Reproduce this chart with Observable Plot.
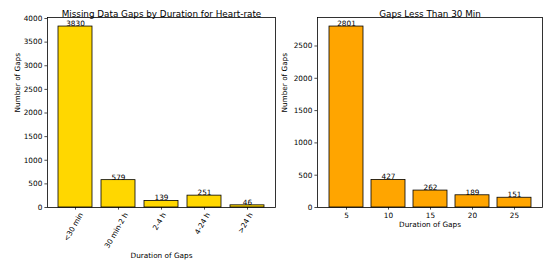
<!DOCTYPE html>
<html><head><meta charset="utf-8">
<script src="https://cdn.jsdelivr.net/npm/d3@7"></script>
<script src="https://cdn.jsdelivr.net/npm/@observablehq/plot@0.6"></script>
<style>
html,body{margin:0;padding:0;background:#fff;}
#wrap{position:relative;width:545px;height:268px;overflow:hidden;background:#fff;}
#wrap svg{position:absolute;top:0;}
</style></head><body><div id="wrap"></div>
<script>
const leftTitle = "Missing Data Gaps by Duration for Heart-rate";
const rightTitle = "Gaps Less Than 30 Min";
const leftCategories = ["<30 min", "30 min-2 h", "2-4 h", "4-24 h", ">24 h"];
const leftCounts = [3830, 579, 139, 251, 46];
const rightDurations = ["5", "10", "15", "20", "25"];
const rightCounts = [2801, 427, 262, 189, 151];
const leftYTicks = [0, 500, 1000, 1500, 2000, 2500, 3000, 3500, 4000];
const rightYTicks = [0, 500, 1000, 1500, 2000, 2500];
const xLabel = "Duration of Gaps";
const yLabel = "Number of Gaps";

const FONT = "DejaVu Sans";
const FS = 7.3;
const TFS = 8.8;
const TICK = 2.6;
const ctx = document.createElement("canvas").getContext("2d");
ctx.font = `${FS}px "${FONT}"`;
const measure = t => ctx.measureText(t).width;

const leftData = leftCategories.map((c, i) => ({cat: c, count: leftCounts[i]}));
const rightData = rightDurations.map((c, i) => ({cat: c, count: rightCounts[i]}));

function panel({data, domain, yTicks, fill, title, width, marginLeft, marginRight, rotated, xLabelOffset, yLabelOffset}) {
  const sin60 = Math.sin(Math.PI / 3), cos60 = 0.5;
  const rotMarks = rotated ? domain.map(c => {
    const w = measure(c);
    const H = w * sin60 + FS * 1.0 * cos60;
    return Plot.text([c], {x: d => d, text: d => d, frameAnchor: "bottom", rotate: -60,
      textAnchor: "middle", dy: TICK + TICK + H / 2, fontSize: FS});
  }) : [];
  return Plot.plot({
    width, height: 268,
    marginLeft, marginRight, marginTop: 17, marginBottom: 61,
    style: {fontFamily: FONT, fontSize: FS + "px", color: "#000", background: "transparent", overflow: "visible"},
    x: {type: "band", domain, paddingInner: 0.2, paddingOuter: 0.24},
    y: {domain: [0, d3.max(data, d => d.count) * 1.05]},
    marks: [
      Plot.barY(data, {x: "cat", y: "count", fill, stroke: "#000", strokeWidth: 0.8}),
      Plot.text(data, {x: "cat", y: "count", text: d => String(d.count), dy: -0.5, lineAnchor: "bottom", fontSize: FS}),
      Plot.axisY({ticks: yTicks, tickSize: TICK, tickPadding: TICK, label: null, strokeWidth: 0.7, tickFormat: d => String(d)}),
      Plot.axisX({tickSize: TICK, tickPadding: TICK, label: null, strokeWidth: 0.7,
        tickFormat: rotated ? () => "" : d => d}),
      ...rotMarks,
      Plot.frame({stroke: "#000", strokeWidth: 0.8}),
      Plot.text([title], {text: d => d, frameAnchor: "top", dy: -7, fontSize: TFS}),
      Plot.text([yLabel], {text: d => d, frameAnchor: "left", rotate: -90, dx: -yLabelOffset, fontSize: FS}),
      Plot.text([xLabel], {text: d => d, frameAnchor: "bottom", dy: xLabelOffset, fontSize: FS})
    ]
  });
}

const wrap = document.getElementById("wrap");
const left = panel({data: leftData, domain: leftCategories, yTicks: leftYTicks, fill: "#FFD700",
  title: leftTitle, width: 280, marginLeft: 47, marginRight: 5, rotated: true, xLabelOffset: 50, yLabelOffset: 30});
left.style.left = "0px";
wrap.appendChild(left);
const right = panel({data: rightData, domain: rightDurations, yTicks: rightYTicks, fill: "#FFA500",
  title: rightTitle, width: 265, marginLeft: 37, marginRight: 3, rotated: false, xLabelOffset: 19, yLabelOffset: 33});
right.style.left = "280px";
wrap.appendChild(right);
</script></body></html>
